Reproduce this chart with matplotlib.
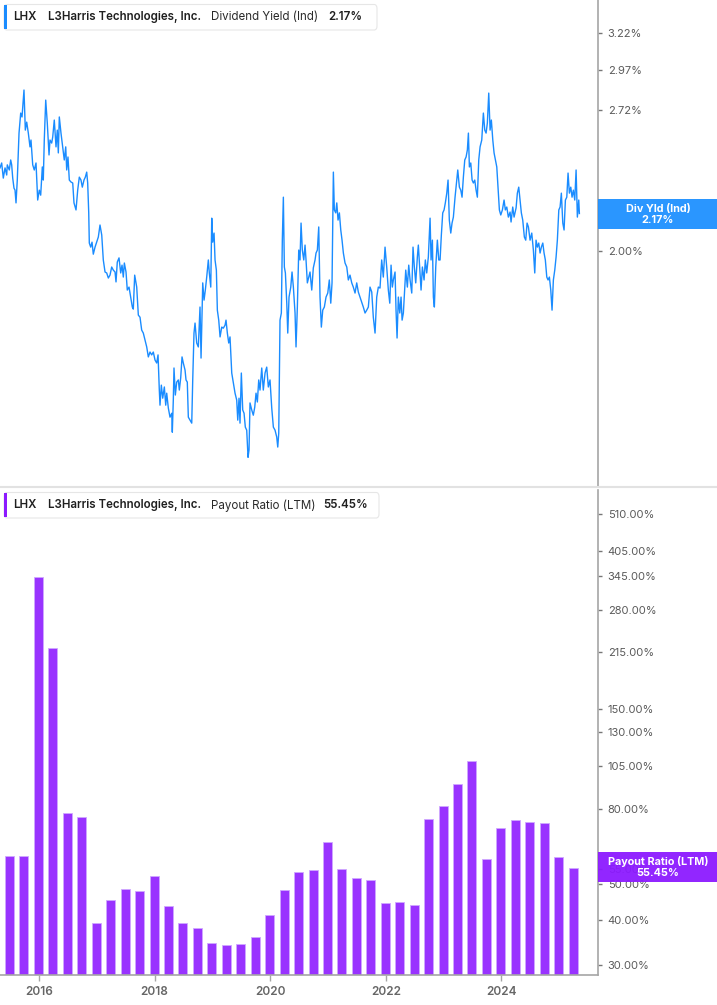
import matplotlib
matplotlib.use('Agg')
import matplotlib.pyplot as plt
from matplotlib.patches import FancyBboxPatch, Rectangle
from matplotlib.lines import Line2D
import matplotlib.ticker as mticker

plt.rcParams['font.family'] = ['Inter', 'DejaVu Sans']

# ---------------- data ----------------
yield_dates = [
    2015.325, 2015.354, 2015.382, 2015.412, 2015.441, 2015.451, 2015.486, 2015.510, 2015.527, 2015.545,
    2015.567, 2015.585, 2015.602, 2015.624, 2015.654, 2015.683, 2015.706, 2015.740, 2015.763, 2015.787,
    2015.815, 2015.844, 2015.861, 2015.891, 2015.918, 2015.948, 2015.977, 2016.005, 2016.029, 2016.057,
    2016.074, 2016.091, 2016.116, 2016.143, 2016.173, 2016.190, 2016.219, 2016.237, 2016.264, 2016.294,
    2016.316, 2016.334, 2016.351, 2016.380, 2016.410, 2016.437, 2016.462, 2016.479, 2016.501, 2016.524,
    2016.553, 2016.583, 2016.605, 2016.640, 2016.669, 2016.697, 2016.726, 2016.749, 2016.778, 2016.801,
    2016.825, 2016.842, 2016.860, 2016.870, 2016.894, 2016.917, 2016.939, 2016.969, 2016.998, 2017.026,
    2017.055, 2017.085, 2017.112, 2017.142, 2017.171, 2017.199, 2017.228, 2017.257, 2017.285, 2017.315,
    2017.332, 2017.354, 2017.384, 2017.413, 2017.436, 2017.458, 2017.476, 2017.505, 2017.527, 2017.557,
    2017.586, 2017.614, 2017.631, 2017.655, 2017.690, 2017.718, 2017.747, 2017.776, 2017.804, 2017.834,
    2017.863, 2017.891, 2017.920, 2017.949, 2017.977, 2018.007, 2018.036, 2018.059, 2018.081, 2018.093,
    2018.116, 2018.140, 2018.168, 2018.192, 2018.209, 2018.237, 2018.266, 2018.296, 2018.306, 2018.323,
    2018.335, 2018.358, 2018.382, 2018.410, 2018.427, 2018.451, 2018.474, 2018.496, 2018.526, 2018.543,
    2018.565, 2018.583, 2018.612, 2018.642, 2018.659, 2018.681, 2018.699, 2018.728, 2018.756, 2018.785,
    2018.803, 2018.832, 2018.855, 2018.877, 2018.901, 2018.929, 2018.946, 2018.971, 2018.988, 2019.005,
    2019.028, 2019.045, 2019.068, 2019.085, 2019.109, 2019.132, 2019.161, 2019.188, 2019.218, 2019.235,
    2019.258, 2019.282, 2019.304, 2019.334, 2019.362, 2019.391, 2019.420, 2019.438, 2019.460, 2019.477,
    2019.500, 2019.524, 2019.547, 2019.569, 2019.593, 2019.616, 2019.633, 2019.650, 2019.680, 2019.707,
    2019.732, 2019.754, 2019.777, 2019.801, 2019.823, 2019.853, 2019.880, 2019.910, 2019.939, 2019.967,
    2019.996, 2020.026, 2020.054, 2020.083, 2020.112, 2020.130, 2020.147, 2020.169, 2020.192, 2020.209,
    2020.227, 2020.244, 2020.262, 2020.286, 2020.303, 2020.325, 2020.355, 2020.377, 2020.400, 2020.429,
    2020.446, 2020.469, 2020.493, 2020.515, 2020.533, 2020.555, 2020.580, 2020.602, 2020.619, 2020.642,
    2020.666, 2020.688, 2020.718, 2020.745, 2020.775, 2020.792, 2020.815, 2020.839, 2020.861, 2020.884,
    2020.908, 2020.936, 2020.965, 2020.995, 2021.022, 2021.047, 2021.069, 2021.092, 2021.109, 2021.133,
    2021.151, 2021.173, 2021.196, 2021.220, 2021.242, 2021.265, 2021.294, 2021.324, 2021.351, 2021.380,
    2021.410, 2021.437, 2021.467, 2021.496, 2021.524, 2021.553, 2021.583, 2021.610, 2021.640, 2021.669,
    2021.697, 2021.726, 2021.756, 2021.783, 2021.813, 2021.842, 2021.870, 2021.899, 2021.928, 2021.956,
    2021.986, 2022.016, 2022.043, 2022.068, 2022.090, 2022.112, 2022.130, 2022.159, 2022.176, 2022.194,
    2022.216, 2022.241, 2022.263, 2022.281, 2022.303, 2022.327, 2022.344, 2022.372, 2022.396, 2022.419,
    2022.448, 2022.470, 2022.493, 2022.517, 2022.545, 2022.562, 2022.592, 2022.609, 2022.632, 2022.661,
    2022.683, 2022.707, 2022.735, 2022.765, 2022.782, 2022.805, 2022.822, 2022.839, 2022.863, 2022.891,
    2022.915, 2022.938, 2022.960, 2022.984, 2023.007, 2023.029, 2023.054, 2023.076, 2023.098, 2023.123,
    2023.145, 2023.168, 2023.197, 2023.227, 2023.244, 2023.272, 2023.296, 2023.318, 2023.341, 2023.365,
    2023.388, 2023.410, 2023.428, 2023.445, 2023.469, 2023.492, 2023.514, 2023.538, 2023.561, 2023.583,
    2023.607, 2023.630, 2023.659, 2023.687, 2023.711, 2023.734, 2023.756, 2023.780, 2023.803, 2023.825,
    2023.850, 2023.872, 2023.895, 2023.919, 2023.941, 2023.964, 2023.988, 2024.016, 2024.045, 2024.067,
    2024.092, 2024.119, 2024.149, 2024.166, 2024.195, 2024.218, 2024.253, 2024.275, 2024.299, 2024.322,
    2024.344, 2024.368, 2024.396, 2024.420, 2024.443, 2024.466, 2024.495, 2024.524, 2024.552, 2024.576,
    2024.598, 2024.621, 2024.645, 2024.668, 2024.690, 2024.715, 2024.737, 2024.759, 2024.784, 2024.806,
    2024.829, 2024.853, 2024.875, 2024.898, 2024.922, 2024.945, 2024.967, 2024.992, 2025.014, 2025.036,
    2025.061, 2025.083, 2025.106, 2025.130, 2025.152, 2025.175, 2025.199, 2025.221, 2025.244, 2025.268,
    2025.291, 2025.313, 2025.337, 2025.348,
]
yield_values = [
    2.398, 2.424, 2.345, 2.398, 2.361, 2.414, 2.387, 2.440, 2.414, 2.345,
    2.294, 2.284, 2.221, 2.335, 2.588, 2.704, 2.681, 2.844, 2.605, 2.651,
    2.588, 2.511, 2.549, 2.414, 2.387, 2.424, 2.235, 2.284, 2.259, 2.403,
    2.335, 2.549, 2.782, 2.646, 2.467, 2.549, 2.532, 2.566, 2.663, 2.511,
    2.605, 2.478, 2.681, 2.588, 2.511, 2.440, 2.511, 2.387, 2.456, 2.335,
    2.325, 2.320, 2.221, 2.187, 2.284, 2.350, 2.335, 2.299, 2.335, 2.350,
    2.376, 2.320, 2.173, 2.034, 2.016, 2.038, 1.985, 2.016, 2.038, 2.061,
    2.116, 2.070, 1.960, 1.909, 1.905, 1.884, 1.896, 1.930, 1.917, 1.909,
    1.868, 1.951, 1.969, 1.905, 1.938, 1.888, 1.947, 1.909, 1.835, 1.847,
    1.807, 1.768, 1.760, 1.896, 1.847, 1.737, 1.729, 1.681, 1.670, 1.645,
    1.620, 1.585, 1.602, 1.592, 1.602, 1.574, 1.564, 1.592, 1.474, 1.426,
    1.490, 1.448, 1.484, 1.426, 1.464, 1.417, 1.389, 1.401, 1.344, 1.442,
    1.547, 1.458, 1.500, 1.507, 1.474, 1.514, 1.585, 1.564, 1.540, 1.507,
    1.500, 1.389, 1.380, 1.371, 1.507, 1.670, 1.707, 1.634, 1.620, 1.768,
    1.581, 1.864, 1.795, 1.835, 1.888, 1.960, 1.905, 1.847, 2.148, 2.038,
    2.079, 1.960, 1.917, 1.756, 1.718, 1.656, 1.692, 1.688, 1.699, 1.718,
    1.670, 1.634, 1.656, 1.530, 1.497, 1.464, 1.442, 1.380, 1.448, 1.371,
    1.530, 1.411, 1.401, 1.359, 1.350, 1.272, 1.293, 1.433, 1.411, 1.395,
    1.420, 1.464, 1.436, 1.507, 1.474, 1.547, 1.474, 1.530, 1.550, 1.484,
    1.507, 1.417, 1.359, 1.350, 1.330, 1.301, 1.341, 1.718, 1.745, 2.047,
    2.249, 1.930, 1.905, 1.783, 1.670, 1.807, 1.847, 1.909, 1.847, 1.745,
    1.620, 1.768, 2.003, 1.960, 2.125, 2.003, 1.960, 2.025, 1.960, 1.864,
    1.888, 1.909, 1.835, 1.926, 1.960, 1.990, 2.003, 2.107, 1.807, 1.692,
    1.756, 1.768, 1.807, 1.823, 1.876, 1.783, 1.864, 2.376, 2.187, 2.173,
    2.221, 2.139, 2.173, 2.093, 2.047, 1.990, 1.947, 1.930, 1.876, 1.896,
    1.864, 1.847, 1.823, 1.864, 1.827, 1.807, 1.787, 1.768, 1.745, 1.756,
    1.768, 1.847, 1.827, 1.729, 1.670, 1.807, 1.847, 1.843, 1.960, 1.888,
    2.016, 1.926, 1.835, 1.783, 1.938, 1.847, 1.876, 1.909, 1.756, 1.652,
    1.807, 1.745, 1.807, 1.718, 1.745, 1.847, 1.917, 1.847, 1.938, 1.876,
    1.823, 2.016, 1.930, 1.864, 1.973, 2.025, 1.905, 1.835, 1.930, 1.876,
    1.960, 1.905, 1.973, 2.148, 1.960, 2.047, 1.807, 1.768, 1.930, 2.047,
    1.960, 1.960, 2.070, 2.173, 2.187, 2.221, 2.269, 2.335, 2.139, 2.079,
    2.125, 2.153, 2.249, 2.335, 2.387, 2.299, 2.284, 2.249, 2.350, 2.440,
    2.456, 2.494, 2.588, 2.403, 2.424, 2.335, 2.320, 2.335, 2.284, 2.249,
    2.440, 2.511, 2.549, 2.704, 2.605, 2.588, 2.646, 2.825, 2.605, 2.663,
    2.549, 2.478, 2.440, 2.403, 2.299, 2.187, 2.163, 2.187, 2.235, 2.187,
    2.201, 2.153, 2.177, 2.130, 2.201, 2.153, 2.197, 2.269, 2.299, 2.235,
    2.173, 2.139, 2.061, 2.047, 2.125, 2.107, 2.047, 2.079, 2.003, 1.905,
    2.047, 2.016, 2.034, 1.990, 2.016, 2.034, 1.990, 1.960, 1.888, 1.876,
    1.888, 1.835, 1.756, 1.876, 1.917, 1.973, 2.047, 2.187, 2.201, 2.269,
    2.125, 2.093, 2.235, 2.249, 2.371, 2.269, 2.299, 2.249, 2.284, 2.235,
    2.387, 2.153, 2.235, 2.170,
]

payout_dates = [
    2015.49, 2015.74, 2015.99, 2016.24, 2016.49, 2016.74, 2016.99, 2017.24, 2017.49, 2017.74,
    2017.99, 2018.24, 2018.49, 2018.74, 2018.99, 2019.24, 2019.49, 2019.74, 2019.99, 2020.24,
    2020.49, 2020.74, 2020.99, 2021.24, 2021.49, 2021.74, 2021.99, 2022.24, 2022.49, 2022.74,
    2022.99, 2023.24, 2023.49, 2023.74, 2023.99, 2024.24, 2024.49, 2024.74, 2024.99, 2025.24,
]
payout_values = [
    59.6, 59.6, 343.9, 220.0, 78.1, 76.1, 39.1, 45.2, 48.5, 47.8,
    52.6, 43.5, 39.1, 37.9, 34.5, 34.1, 34.3, 35.8, 41.2, 48.2,
    53.9, 54.6, 65.1, 54.9, 51.9, 51.3, 44.4, 44.7, 43.8, 75.2,
    81.6, 93.7, 108.3, 58.5, 71.1, 74.7, 73.8, 73.3, 59.2, 55.45,
]

yield_ticks = [3.22, 2.97, 2.72, 2.00]
payout_ticks = [510, 405, 345, 280, 215, 150, 130, 105, 80, 55, 50, 40, 30]
year_ticks = [2016, 2018, 2020, 2022, 2024]

ticker_name = "LHX"
company = "L3Harris Technologies, Inc."
top_metric, top_last = "Dividend Yield (Ind)", "2.17%"
bot_metric, bot_last = "Payout Ratio (LTM)", "55.45%"

# ---------------- layout ----------------
W, H = 717, 1005
fig = plt.figure(figsize=(W / 100, H / 100), dpi=100)
fig.patch.set_facecolor('white')

def fx(x):
    return x / W

def fy(y):
    return 1 - y / H

BLUE = '#1a8cff'
PURPLE_BAR = '#9933ff'
PURPLE = '#8c1aff'
AX_COL = '#a6a6a6'
LBL_COL = '#5a5a5a'

xlim = (2015.325, 2025.67)

# top panel
ax1 = fig.add_axes([0, fy(487), fx(598), 487 / H])
ax1.plot(yield_dates, yield_values, color=BLUE, lw=1.0, solid_joinstyle='round')
ax1.set_yscale('log')
ax1.set_ylim(1.192, 3.464)
ax1.set_xlim(*xlim)
for s in ['top', 'left', 'bottom']:
    ax1.spines[s].set_visible(False)
ax1.spines['right'].set_color(AX_COL)
ax1.spines['right'].set_linewidth(1.2)
ax1.yaxis.tick_right()
ax1.yaxis.set_major_locator(mticker.FixedLocator(yield_ticks))
ax1.yaxis.set_minor_locator(mticker.NullLocator())
ax1.yaxis.set_major_formatter(mticker.FuncFormatter(lambda v, p: f"{v:.2f}%"))
ax1.tick_params(axis='y', which='major', length=3, width=1, color='#777777',
                labelsize=8, labelcolor=LBL_COL, pad=4)
ax1.set_xticks([])

# bottom panel
ax2 = fig.add_axes([0, fy(975), fx(598), (975 - 490) / H])
ybot = 28.23
ax2.bar(payout_dates, [v - ybot for v in payout_values], bottom=ybot, width=0.156,
        color=PURPLE_BAR, edgecolor='#cfa8ff', linewidth=0.6, zorder=2)
ax2.set_yscale('log')
ax2.set_ylim(ybot, 594)
ax2.set_xlim(*xlim)
for s in ['top', 'left']:
    ax2.spines[s].set_visible(False)
for s in ['right', 'bottom']:
    ax2.spines[s].set_color(AX_COL)
    ax2.spines[s].set_linewidth(1.2)
ax2.yaxis.tick_right()
ax2.yaxis.set_major_locator(mticker.FixedLocator(payout_ticks))
ax2.yaxis.set_minor_locator(mticker.NullLocator())
ax2.yaxis.set_major_formatter(mticker.FuncFormatter(lambda v, p: f"{v:.2f}%"))
ax2.tick_params(axis='y', which='major', length=3, width=1, color='#777777',
                labelsize=8, labelcolor=LBL_COL, pad=4)
ax2.set_xticks(year_ticks)
ax2.set_xticklabels([str(y) for y in year_ticks])
ax2.tick_params(axis='x', length=4, width=1, color=AX_COL, labelsize=8.5,
                labelcolor='#666666', pad=4)
for t in ax2.get_xticklabels():
    t.set_fontweight('semibold')

# separator between panels
fig.add_artist(Line2D([0, 1], [fy(487.5), fy(487.5)], transform=fig.transFigure,
                      color='#e2e2e2', lw=1.5))

# legend boxes
def legend_box(y0, y1, x1, accent, metric, last, metric_x, last_x):
    box = FancyBboxPatch((fx(4), fy(y1)), fx(x1) - fx(4), fy(y0) - fy(y1),
                         boxstyle='round,pad=0,rounding_size=0.004',
                         transform=fig.transFigure, facecolor='white',
                         edgecolor='#e6e6e6', lw=0.8, zorder=5)
    fig.add_artist(box)
    fig.add_artist(Rectangle((fx(4), fy(y1 - 1)), fx(3), fy(y0 + 1) - fy(y1 - 1),
                             transform=fig.transFigure, facecolor=accent,
                             edgecolor='none', zorder=6))
    yc = fy((y0 + y1) / 2)
    kw = dict(va='center', ha='left', fontsize=8.3, zorder=7)
    fig.text(fx(13), yc, ticker_name, color='#1f1f1f', fontweight='semibold', **kw)
    fig.text(fx(47.5), yc, company, color='#1f1f1f', fontweight='semibold', **kw)
    fig.text(fx(metric_x), yc, metric, color='#2a2a2a', fontweight='normal', **kw)
    fig.text(fx(last_x), yc, last, color='#1f1f1f', fontweight='semibold', **kw)

legend_box(4.5, 30, 377, BLUE, top_metric, top_last, 211, 328)
legend_box(492.5, 518, 379, PURPLE, bot_metric, bot_last, 211, 323.5)

# right-side value tags
def tag(y0, y1, color, l1, l2):
    fig.add_artist(Rectangle((fx(598), fy(y1)), fx(717) - fx(598), fy(y0) - fy(y1),
                             transform=fig.transFigure, facecolor=color,
                             edgecolor='none', alpha=0.95, zorder=8))
    xc = fx(658)
    fig.text(xc, fy(y0 + 9.5), l1, color='white', fontsize=7.8, fontweight='bold',
             ha='center', va='center', zorder=9)
    fig.text(xc, fy(y0 + 20.5), l2, color='white', fontsize=7.8, fontweight='bold',
             ha='center', va='center', zorder=9)

tag(199.5, 229.5, '#1e90ff', "Div Yld (Ind)", top_last)
tag(852, 882, PURPLE, bot_metric, bot_last)

fig.savefig('out.png', dpi=100, facecolor='white')
